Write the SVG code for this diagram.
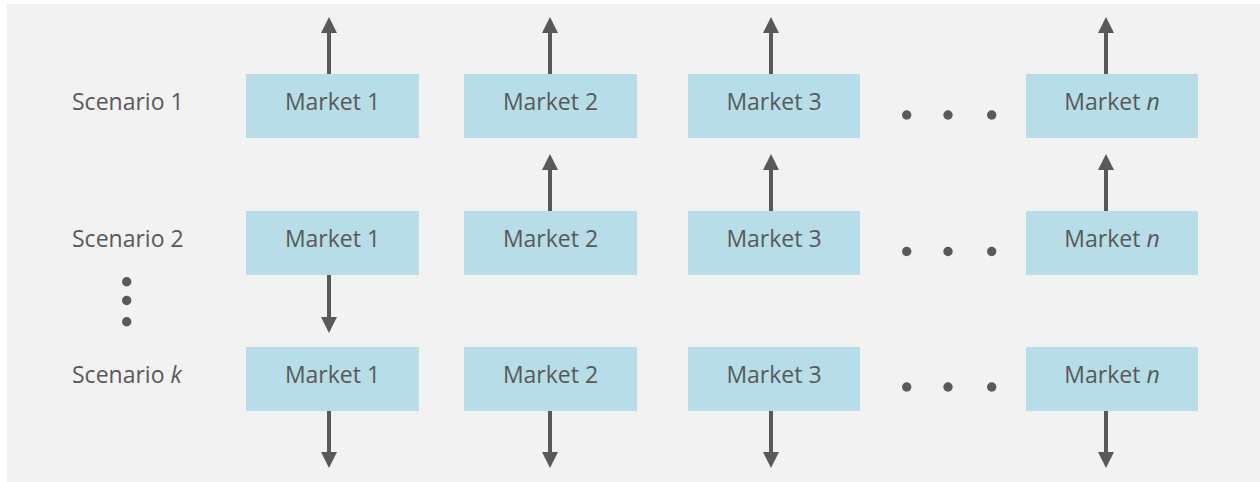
<svg xmlns="http://www.w3.org/2000/svg" width="1260" height="482" viewBox="0 0 1260 482">
<defs>
<style>
.bg{fill:#f2f2f2}
.box{fill:#b7dde8}
.t{font-family:"Open Sans","Noto Sans","Liberation Sans",sans-serif;font-size:23px;fill:#595959}
.m{text-anchor:middle}
.c{stroke:#595959;stroke-width:4;fill:none;marker-end:url(#ah)}
.dot{fill:#595959}
</style>
<marker id="ah" markerUnits="userSpaceOnUse" markerWidth="16" markerHeight="16" viewBox="0 0 16 16" refX="0" refY="8" orient="auto">
<path d="M0,0 L16,8 L0,16 Z" fill="#595959"/>
</marker>
</defs>
<rect class="bg" x="7" y="4" width="1253" height="478"/>

<g id="labels">
<text class="t" x="72" y="110">Scenario 1</text>
<text class="t" x="72" y="247">Scenario 2</text>
<text class="t" x="72" y="383">Scenario <tspan font-style="italic">k</tspan></text>
<circle class="dot" cx="126.7" cy="281.7" r="4.7"/>
<circle class="dot" cx="126.7" cy="300.5" r="4.7"/>
<circle class="dot" cx="126.7" cy="321.7" r="4.7"/>
</g>

<g id="r1m1"><rect class="box" x="246" y="74" width="173" height="64"/><text class="t m" x="332.5" y="110">Market 1</text></g>
<g id="r1m2"><rect class="box" x="464" y="74" width="173" height="64"/><text class="t m" x="550.5" y="110">Market 2</text></g>
<g id="r1m3"><rect class="box" x="688" y="74" width="172" height="64"/><text class="t m" x="774" y="110">Market 3</text></g>
<g id="r1dots"><circle class="dot" cx="906.7" cy="115" r="4.7"/><circle class="dot" cx="948" cy="115" r="4.7"/><circle class="dot" cx="991.7" cy="115" r="4.7"/></g>
<g id="r1mn"><rect class="box" x="1026" y="74" width="172" height="64"/><text class="t m" x="1112" y="110">Market <tspan font-style="italic">n</tspan></text></g>

<g id="r2m1"><rect class="box" x="246" y="211" width="173" height="64"/><text class="t m" x="332.5" y="247">Market 1</text></g>
<g id="r2m2"><rect class="box" x="464" y="211" width="173" height="64"/><text class="t m" x="550.5" y="247">Market 2</text></g>
<g id="r2m3"><rect class="box" x="688" y="211" width="172" height="64"/><text class="t m" x="774" y="247">Market 3</text></g>
<g id="r2dots"><circle class="dot" cx="906.7" cy="251.5" r="4.7"/><circle class="dot" cx="948" cy="251.5" r="4.7"/><circle class="dot" cx="991.7" cy="251.5" r="4.7"/></g>
<g id="r2mn"><rect class="box" x="1026" y="211" width="172" height="64"/><text class="t m" x="1112" y="247">Market <tspan font-style="italic">n</tspan></text></g>

<g id="r3m1"><rect class="box" x="246" y="347" width="173" height="64"/><text class="t m" x="332.5" y="383">Market 1</text></g>
<g id="r3m2"><rect class="box" x="464" y="347" width="173" height="64"/><text class="t m" x="550.5" y="383">Market 2</text></g>
<g id="r3m3"><rect class="box" x="688" y="347" width="172" height="64"/><text class="t m" x="774" y="383">Market 3</text></g>
<g id="r3dots"><circle class="dot" cx="906.7" cy="387" r="4.7"/><circle class="dot" cx="948" cy="387" r="4.7"/><circle class="dot" cx="991.7" cy="387" r="4.7"/></g>
<g id="r3mn"><rect class="box" x="1026" y="347" width="172" height="64"/><text class="t m" x="1112" y="383">Market <tspan font-style="italic">n</tspan></text></g>

<g id="connectors">
<line class="c" x1="329" y1="74" x2="329" y2="33"/>
<line class="c" x1="550" y1="74" x2="550" y2="33"/>
<line class="c" x1="771" y1="74" x2="771" y2="33"/>
<line class="c" x1="1106" y1="74" x2="1106" y2="33"/>
<line class="c" x1="550" y1="211" x2="550" y2="170"/>
<line class="c" x1="771" y1="211" x2="771" y2="170"/>
<line class="c" x1="1106" y1="211" x2="1106" y2="170"/>
<line class="c" x1="329" y1="275" x2="329" y2="317"/>
<line class="c" x1="329" y1="411" x2="329" y2="452"/>
<line class="c" x1="550" y1="411" x2="550" y2="452"/>
<line class="c" x1="771" y1="411" x2="771" y2="452"/>
<line class="c" x1="1106" y1="411" x2="1106" y2="452"/>
</g>
</svg>
